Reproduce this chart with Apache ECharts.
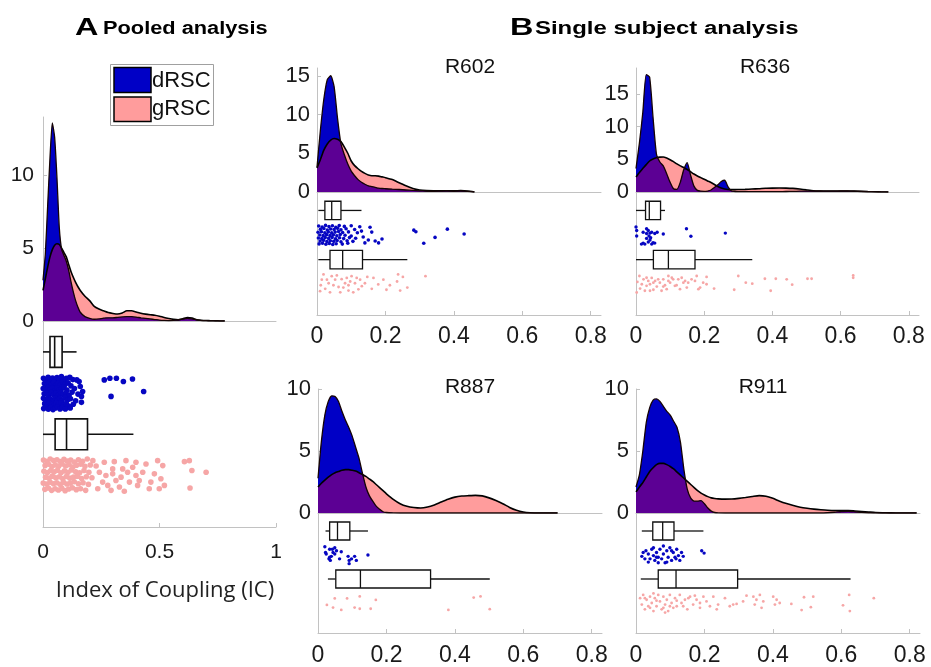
<!DOCTYPE html>
<html><head><meta charset="utf-8">
<script src="https://cdn.jsdelivr.net/npm/echarts@6/dist/echarts.min.js"></script>
<style>html,body{margin:0;padding:0;background:#fff}#c{width:931px;height:667px}</style>
</head><body><div id="c"></div>
<script>
// ---------------- DATA ----------------
// Panel A: pooled densities
const xA = [0,0.01,0.02,0.03,0.04,0.05,0.06,0.07,0.08,0.09,0.10,0.11,0.12,0.13,0.14,0.15,0.16,0.18,0.20,0.22,0.24,0.26,0.28,0.30,0.32,0.34,0.36,0.38,0.40,0.42,0.44,0.46,0.48,0.50,0.52,0.54,0.56,0.58,0.60,0.62,0.64,0.66,0.68,0.70,0.72,0.74,0.76,0.78];
const dRSC_A = [2.8,4.6,7.9,11.2,13.6,12.6,9.8,6.4,4.9,4.5,4.1,3.5,2.7,2.0,1.4,0.95,0.6,0.3,0.18,0.12,0.14,0.2,0.22,0.22,0.25,0.28,0.3,0.3,0.27,0.22,0.18,0.14,0.1,0.06,0.04,0.03,0.04,0.08,0.14,0.18,0.14,0.07,0.03,0.02,0.01,0.005,0,0];
const gRSC_A = [2.1,2.9,3.7,4.4,4.9,5.2,5.3,5.25,5.0,4.7,4.4,3.9,3.4,3.0,2.65,2.35,2.1,1.7,1.4,1.0,0.82,0.7,0.58,0.52,0.48,0.55,0.7,0.7,0.62,0.53,0.47,0.43,0.4,0.33,0.24,0.17,0.11,0.08,0.15,0.24,0.2,0.09,0.05,0.03,0.02,0.01,0.005,0];
// R602
const x602 = [0,0.01,0.02,0.03,0.04,0.05,0.06,0.07,0.08,0.09,0.10,0.11,0.12,0.13,0.14,0.15,0.16,0.17,0.18,0.19,0.20,0.22,0.24,0.26,0.28,0.30,0.32,0.34,0.36,0.38,0.40,0.42,0.44,0.46];
const dRSC_602 = [3.2,8.0,12.0,14.5,15.0,13.6,9.5,6.2,4.8,3.6,2.7,2.1,1.6,1.25,1.0,0.8,0.7,0.6,0.5,0.45,0.42,0.36,0.32,0.26,0.2,0.15,0.12,0.1,0.12,0.14,0.1,0.14,0.08,0];
const gRSC_602 = [3.1,4.2,5.4,6.2,6.7,6.9,6.8,6.5,5.8,5.0,4.0,3.4,3.0,2.65,2.4,2.2,2.1,2.1,2.05,1.95,1.85,1.6,1.2,0.8,0.45,0.25,0.18,0.17,0.17,0.17,0.16,0.18,0.12,0];
// R636
const x636 = [0,0.01,0.02,0.03,0.04,0.05,0.06,0.07,0.08,0.09,0.10,0.11,0.12,0.13,0.14,0.15,0.16,0.17,0.18,0.19,0.20,0.21,0.22,0.23,0.24,0.25,0.26,0.27,0.28,0.29,0.30,0.32,0.34,0.36,0.38,0.40,0.42,0.44,0.46,0.48,0.50,0.52,0.54,0.56,0.58,0.60,0.62,0.64,0.66,0.68,0.70,0.72,0.74];
const dRSC_636 = [3.6,7.5,12.2,18.0,17.6,11.4,5.8,4.6,4.0,2.8,1.5,0.5,0.4,1.5,3.4,4.5,2.6,0.9,0.25,0.12,0.1,0.15,0.3,0.7,1.1,1.6,1.8,0.8,0.15,0.08,0.06,0.05,0.05,0.05,0.05,0.05,0.06,0.08,0.1,0.12,0.14,0.15,0.15,0.14,0.14,0.15,0.15,0.14,0.1,0.06,0.03,0.01,0];
const gRSC_636 = [2.3,3.0,3.6,4.2,4.75,5.05,5.25,5.35,5.36,5.2,4.95,4.65,4.3,4.0,3.75,3.45,3.1,2.75,2.45,2.2,1.95,1.7,1.45,1.15,0.85,0.6,0.45,0.38,0.36,0.37,0.38,0.4,0.45,0.5,0.57,0.6,0.62,0.6,0.55,0.45,0.32,0.2,0.16,0.15,0.15,0.15,0.15,0.14,0.1,0.06,0.03,0.01,0];
// R887
const x887 = [0,0.01,0.02,0.03,0.04,0.05,0.06,0.07,0.08,0.09,0.10,0.11,0.12,0.13,0.14,0.15,0.16,0.17,0.18,0.19,0.20,0.22,0.24,0.26,0.28,0.30,0.32,0.34,0.36,0.38,0.40,0.42,0.44,0.46,0.48,0.50,0.52,0.54,0.56,0.58,0.60,0.62,0.64,0.66,0.68,0.70];
const dRSC_887 = [2.8,5.8,7.9,9.0,9.45,9.4,9.0,8.2,7.5,6.9,6.2,5.3,4.4,3.2,2.1,1.4,0.95,0.55,0.3,0.1,0.04,0.01,0,0,0,0,0,0,0,0,0,0,0,0,0,0,0,0,0,0,0,0,0,0,0,0];
const gRSC_887 = [2.1,2.4,2.65,2.9,3.1,3.25,3.35,3.45,3.5,3.5,3.45,3.38,3.25,3.1,2.95,2.75,2.55,2.3,2.05,1.8,1.55,1.1,0.75,0.54,0.44,0.4,0.48,0.65,0.88,1.1,1.28,1.37,1.4,1.42,1.38,1.22,1.0,0.75,0.45,0.22,0.08,0.02,0.005,0,0,0];
// R911
const x911 = [0,0.01,0.02,0.03,0.04,0.05,0.06,0.07,0.08,0.09,0.10,0.11,0.12,0.13,0.14,0.15,0.16,0.17,0.18,0.19,0.20,0.21,0.22,0.23,0.24,0.26,0.28,0.30,0.32,0.34,0.36,0.38,0.40,0.42,0.44,0.46,0.48,0.50,0.52,0.54,0.56,0.58,0.60,0.62,0.64,0.66,0.68,0.70,0.72,0.74,0.76,0.78,0.80,0.82];
const dRSC_911 = [2.1,3.1,5.0,7.3,8.5,9.1,9.2,9.0,8.6,8.2,7.9,7.4,6.9,5.7,3.5,1.9,1.2,0.95,0.95,1.0,0.75,0.4,0.15,0.04,0.01,0,0,0,0,0,0,0,0,0,0,0,0,0,0,0,0.02,0.06,0.12,0.14,0.1,0.05,0.02,0.01,0,0,0,0,0,0];
const gRSC_911 = [1.7,2.1,2.45,2.9,3.35,3.65,3.9,4.0,4.0,3.9,3.75,3.55,3.3,3.05,2.8,2.55,2.3,2.05,1.8,1.6,1.45,1.32,1.22,1.17,1.14,1.12,1.13,1.18,1.25,1.33,1.4,1.35,1.18,0.95,0.76,0.6,0.47,0.38,0.31,0.26,0.22,0.2,0.2,0.2,0.16,0.12,0.08,0.04,0.02,0.01,0,0,0,0];

// Box stats: [whisker low, q1, median, q3, whisker high]
const boxA_d = [0.0,0.030,0.05,0.082,0.144];
const boxA_g = [0.0,0.052,0.101,0.191,0.388];
const box602_d = [0.004,0.023,0.043,0.070,0.13];
const box602_g = [0.004,0.038,0.075,0.133,0.264];
const box636_d = [0.0,0.028,0.039,0.072,0.085];
const box636_g = [0.0,0.051,0.095,0.173,0.341];
const box887_d = [0.022,0.034,0.057,0.093,0.146];
const box887_g = [0.029,0.052,0.124,0.329,0.502];
const box911_d = [0.017,0.049,0.078,0.111,0.197];
const box911_g = [0.014,0.065,0.117,0.297,0.627];

// Raw points: [IC value, jitter (0..1 within its band)]
const dotsA_d = [[0.002,0.05],[0.012,0.12],[0.022,0.02],[0.031,0.09],[0.041,0.04],[0.05,0.11],[0.06,0.03],[0.07,0.08],[0.079,0.0],[0.09,0.1],[0.1,0.05],[0.115,0.02],[0.128,0.09],
[0.006,0.21],[0.016,0.26],[0.026,0.18],[0.036,0.24],[0.046,0.17],[0.055,0.27],[0.065,0.2],[0.075,0.25],[0.085,0.16],[0.095,0.23],[0.108,0.19],[0.12,0.28],
[0.001,0.36],[0.011,0.39],[0.021,0.33],[0.03,0.41],[0.04,0.35],[0.05,0.43],[0.06,0.34],[0.07,0.4],[0.08,0.37],[0.09,0.32],[0.103,0.41],[0.135,0.36],[0.16,0.3],
[0.005,0.52],[0.015,0.49],[0.025,0.56],[0.035,0.48],[0.045,0.55],[0.055,0.5],[0.066,0.57],[0.076,0.48],[0.086,0.54],[0.098,0.5],[0.112,0.57],[0.125,0.47],[0.15,0.53],
[0.002,0.66],[0.012,0.71],[0.022,0.64],[0.032,0.69],[0.042,0.73],[0.052,0.65],[0.062,0.7],[0.072,0.66],[0.082,0.73],[0.094,0.63],[0.106,0.7],[0.118,0.67],[0.14,0.73],
[0.007,0.82],[0.017,0.87],[0.027,0.8],[0.037,0.85],[0.047,0.89],[0.057,0.81],[0.067,0.86],[0.077,0.8],[0.088,0.87],[0.1,0.82],[0.11,0.89],[0.13,0.84],[0.165,0.78],
[0.003,0.97],[0.013,0.93],[0.023,0.99],[0.033,0.94],[0.043,1.0],[0.053,0.95],[0.063,0.92],[0.073,0.98],[0.083,0.94],[0.096,0.98],[0.117,0.95],
[0.155,0.15],[0.165,0.6],[0.17,0.45],[0.145,0.1],[0.263,0.1],[0.287,0.05],[0.315,0.05],[0.345,0.15],[0.384,0.07],[0.292,0.6],[0.432,0.45]];
const dotsA_g = [[0.002,0.03],[0.017,0.07],[0.031,0.0],[0.046,0.05],[0.06,0.02],[0.075,0.08],[0.09,0.01],[0.104,0.06],[0.119,0.03],[0.135,0.09],[0.152,0.02],[0.17,0.07],[0.19,0.0],[0.214,0.05],
[0.009,0.2],[0.024,0.16],[0.038,0.23],[0.053,0.18],[0.067,0.22],[0.082,0.15],[0.097,0.21],[0.112,0.17],[0.128,0.24],[0.144,0.19],[0.162,0.16],[0.18,0.22],[0.203,0.18],[0.228,0.21],
[0.004,0.37],[0.019,0.41],[0.033,0.35],[0.048,0.39],[0.062,0.34],[0.077,0.42],[0.092,0.36],[0.107,0.4],[0.122,0.33],[0.14,0.39],[0.157,0.42],[0.176,0.35],[0.197,0.4],
[0.011,0.55],[0.026,0.58],[0.04,0.52],[0.055,0.57],[0.07,0.54],[0.085,0.6],[0.1,0.53],[0.115,0.58],[0.131,0.55],[0.148,0.52],[0.166,0.59],[0.186,0.54],[0.21,0.57],
[0.001,0.73],[0.016,0.76],[0.03,0.7],[0.045,0.75],[0.059,0.72],[0.074,0.77],[0.088,0.71],[0.103,0.76],[0.118,0.73],[0.134,0.69],[0.152,0.75],[0.172,0.72],[0.195,0.77],
[0.008,0.92],[0.023,0.88],[0.037,0.95],[0.052,0.9],[0.066,0.94],[0.081,0.89],[0.095,0.96],[0.11,0.91],[0.126,0.87],[0.143,0.93],[0.161,0.9],[0.183,0.95],
[0.263,0.1],[0.306,0.08],[0.356,0.05],[0.399,0.1],[0.342,0.3],[0.363,0.4],[0.399,0.5],[0.313,0.65],[0.278,0.8],[0.235,0.9],[0.328,0.85],[0.371,0.7],[0.406,0.8],[0.456,0.9],[0.499,0.9],[0.463,0.7],[0.428,0.4],[0.442,0.15],[0.492,0.05],[0.514,0.2],[0.478,0.45],[0.506,0.6],[0.521,0.8],[0.607,0.08],[0.628,0.05],[0.639,0.35],[0.70,0.4],[0.631,0.88],[0.299,0.3],[0.27,0.5],[0.256,0.7],[0.385,0.25],[0.335,0.55],[0.292,0.95],[0.242,0.4],[0.349,0.98],[0.413,0.65],[0.299,0.45]];
const dots602_d = [[0.005,0.04],[0.015,0.09],[0.025,0.01],[0.035,0.07],[0.045,0.03],[0.055,0.1],[0.065,0.02],[0.08,0.06],[0.1,0.03],[0.125,0.08],
[0.01,0.21],[0.02,0.17],[0.03,0.24],[0.04,0.19],[0.05,0.22],[0.06,0.16],[0.07,0.23],[0.085,0.18],[0.11,0.22],
[0.003,0.36],[0.013,0.33],[0.023,0.38],[0.033,0.34],[0.043,0.39],[0.053,0.35],[0.063,0.32],[0.075,0.37],[0.092,0.34],[0.118,0.38],
[0.008,0.5],[0.018,0.53],[0.028,0.48],[0.038,0.52],[0.048,0.49],[0.058,0.54],[0.068,0.47],[0.082,0.51],[0.1,0.55],
[0.004,0.65],[0.014,0.68],[0.024,0.63],[0.034,0.67],[0.044,0.62],[0.054,0.69],[0.066,0.64],[0.078,0.68],[0.095,0.63],[0.113,0.66],
[0.009,0.8],[0.019,0.77],[0.029,0.83],[0.039,0.79],[0.049,0.82],[0.059,0.78],[0.07,0.84],[0.088,0.79],[0.105,0.82],
[0.006,0.95],[0.016,0.92],[0.026,0.97],[0.036,0.93],[0.046,0.98],[0.056,0.94],[0.074,0.96],[0.09,0.92],
[0.155,0.1],[0.16,0.35],[0.135,0.6],[0.15,0.75],[0.17,0.8],[0.18,0.9],[0.19,0.7],[0.13,0.3],[0.14,0.9],
[0.283,0.25],[0.289,0.33],[0.312,0.92],[0.345,0.62],[0.381,0.2],[0.43,0.45]];
const dots602_g = [[0.237,0.0],[0.251,0.13],[0.264,0.67],[0.234,0.36],[0.243,0.82],[0.203,0.78],[0.179,0.51],[0.16,0.73],[0.14,0.45],[0.126,0.27],[0.121,0.76],[0.101,0.09],[0.097,0.36],[0.092,0.82],[0.082,0.45],[0.072,0.24],[0.063,0.64],[0.053,0.27],[0.043,0.09],[0.034,0.45],[0.024,0.73],[0.014,0.27],[0.009,0.85],[0.019,0.0],[0.317,0.09],
[0.038,0.91],[0.058,0.05],[0.068,0.91],[0.087,0.18],[0.092,0.55],[0.111,0.45],[0.116,0.18],[0.131,0.6],[0.029,0.27],[0.048,0.55],[0.077,0.67],[0.011,0.55],[0.194,0.27],[0.165,0.18],[0.106,0.91],[0.147,0.13],[0.213,0.55]];
const dots636_d = [[0.0,0.09],[0.002,0.55],[0.021,0.36],[0.031,0.18],[0.031,0.42],[0.036,0.27],[0.041,0.4],[0.046,0.36],[0.055,0.42],[0.062,0.36],[0.08,0.45],[0.021,0.91],[0.026,0.96],[0.036,0.85],[0.041,0.75],[0.046,0.96],[0.05,0.89],[0.055,0.91],[0.043,0.64],[0.038,0.55],[0.002,0.27],[0.148,0.18],[0.161,0.56],[0.262,0.4],[0.016,0.96],[0.031,0.67]];
const dots636_g = [[0.300,0.08],[0.322,0.42],[0.341,0.47],[0.378,0.22],[0.410,0.22],[0.442,0.25],[0.458,0.52],[0.503,0.22],[0.515,0.22],[0.637,0.05],[0.637,0.17],[0.288,0.78],[0.395,0.83],[0.178,0.08],[0.207,0.13],[0.229,0.72],[0.197,0.42],[0.188,0.67],[0.163,0.25],[0.153,0.42],[0.139,0.42],[0.124,0.25],[0.114,0.58],[0.105,0.17],[0.095,0.33],[0.090,0.75],[0.080,0.25],[0.070,0.42],[0.061,0.62],[0.051,0.78],[0.046,0.18],[0.036,0.33],[0.031,0.58],[0.022,0.25],[0.017,0.5],[0.010,0.08],[0.004,0.38],[0.002,0.92],[0.026,0.83],[0.041,0.83],[0.065,0.25],[0.085,0.55],[0.100,0.42],[0.109,0.25],[0.119,0.55],[0.134,0.17],[0.149,0.67],[0.173,0.33],[0.183,0.75],[0.207,0.5],[0.075,0.83],[0.056,0.33],[0.012,0.72],[0.129,0.75],[0.095,0.08],[0.041,0.5],[0.080,0.62],[0.144,0.33],[0.031,0.17],[0.051,0.42]];
const dots887_d = [[0.020,0.07],[0.034,0.2],[0.049,0.12],[0.044,0.37],[0.039,0.57],[0.032,0.7],[0.036,0.78],[0.049,0.45],[0.054,0.28],[0.024,0.45],[0.063,0.7],[0.068,0.33],[0.088,0.57],[0.091,0.78],[0.098,0.7],[0.107,0.57],[0.112,0.78],[0.091,0.95],[0.146,0.5],[0.034,0.62],[0.042,0.2],[0.022,0.37]];
const dots887_g = [[0.026,0.6],[0.044,0.74],[0.049,0.26],[0.068,0.86],[0.085,0.26],[0.107,0.74],[0.122,0.16],[0.122,0.8],[0.154,0.8],[0.169,0.34],[0.381,0.86],[0.455,0.22],[0.475,0.16],[0.502,0.82]];
const dots911_d = [[0.017,0.57],[0.021,0.37],[0.029,0.28],[0.036,0.45],[0.041,0.7],[0.046,0.2],[0.051,0.53],[0.055,0.78],[0.06,0.37],[0.065,0.62],[0.07,0.2],[0.075,0.7],[0.08,0.45],[0.085,0.9],[0.09,0.28],[0.094,0.62],[0.099,0.12],[0.104,0.78],[0.109,0.37],[0.114,0.62],[0.119,0.2],[0.124,0.53],[0.128,0.78],[0.133,0.37],[0.138,0.57],[0.051,0.12],[0.065,0.9],[0.09,0.87],[0.026,0.7],[0.08,0.03],[0.104,0.28],[0.117,0.7],[0.192,0.28],[0.199,0.4],[0.036,0.87],[0.06,0.62]];
const dots911_g = [[0.012,0.25],[0.017,0.58],[0.021,0.08],[0.026,0.83],[0.031,0.33],[0.036,0.67],[0.041,0.17],[0.046,0.5],[0.051,0.92],[0.055,0.25],[0.06,0.67],[0.065,0.08],[0.07,0.42],[0.075,0.83],[0.08,0.17],[0.085,0.58],[0.09,0.33],[0.094,0.92],[0.099,0.08],[0.104,0.5],[0.109,0.75],[0.114,0.25],[0.119,0.67],[0.128,0.08],[0.133,0.5],[0.143,0.33],[0.15,0.83],[0.158,0.17],[0.167,0.58],[0.177,0.33],[0.187,0.75],[0.197,0.17],[0.206,0.42],[0.216,0.67],[0.226,0.17],[0.24,0.58],[0.26,0.25],[0.274,0.67],[0.284,0.58],[0.294,0.55],[0.313,0.42],[0.343,0.17],[0.347,0.58],[0.352,0.33],[0.362,0.08],[0.367,0.75],[0.372,0.42],[0.401,0.17],[0.406,0.58],[0.411,0.33],[0.42,0.5],[0.454,0.55],[0.484,0.87],[0.491,0.2],[0.511,0.72],[0.518,0.17],[0.605,0.62],[0.623,0.08],[0.625,0.92],[0.695,0.25],[0.026,0.25],[0.041,0.75],[0.06,0.38],[0.08,0.75],[0.099,0.67],[0.119,0.38],[0.138,0.67],[0.153,0.25],[0.172,0.12],[0.187,0.5],[0.236,0.83],[0.323,0.12],[0.051,0.0],[0.085,1.0]];

// Tick labels
const ticksA_x = [0, 0.5, 1];
const ticksB_x = [0, 0.2, 0.4, 0.6, 0.8];
const ticksA_y = [0, 5, 10];
const ticks602_y = [0, 5, 10, 15];
const ticks636_y = [0, 5, 10, 15];
const ticks887_y = [0, 5, 10];
const ticks911_y = [0, 5, 10];
const subjectNames = ['R602', 'R636', 'R887', 'R911'];
const groupNames = ['dRSC', 'gRSC'];

// ---------------- STYLE / LAYOUT ----------------
const FONT = '"Liberation Sans", Arial, sans-serif';
const AXC = '#c2c2c2';
const TXT = '#1a1a1a';
const BLUE = '#0000c6', PINK = '#ff9c9c', PURPLE = '#5c0094';
const DOT_D = '#0606c2', DOT_G = '#f6a6a6';
const BOX_D_Y = 0.15, BOX_G_Y = 0.55, BOX_HALF = 0.075;
const BAND_D = [0.27, 0.43], BAND_G = [0.67, 0.83];

const panels = [
  {xs:xA, d:dRSC_A, g:gRSC_A, bd:boxA_d, bg:boxA_g, sd:dotsA_d, sg:dotsA_g, tx:ticksA_x, ty:ticksA_y,
   left:43, width:233, top:117, zero:321, bottom:527, xmax:1, ymax:14, fx:21, fy:21, xm:15, ym:9, dsD:5.6, dsG:5.6, lw:1.6},
  {xs:x602, d:dRSC_602, g:gRSC_602, bd:box602_d, bg:box602_g, sd:dots602_d, sg:dots602_g, tx:ticksB_x, ty:ticks602_y,
   left:317, width:284, top:68, zero:192, bottom:315, xmax:0.83, ymax:16, fx:23, fy:22, xm:10, ym:7, dsD:3.6, dsG:2.8, lw:1.3},
  {xs:x636, d:dRSC_636, g:gRSC_636, bd:box636_d, bg:box636_g, sd:dots636_d, sg:dots636_g, tx:ticksB_x, ty:ticks636_y,
   left:636, width:283, top:68, zero:192, bottom:315, xmax:0.83, ymax:19, fx:23, fy:22, xm:10, ym:7, dsD:3.4, dsG:2.8, lw:1.3},
  {xs:x887, d:dRSC_887, g:gRSC_887, bd:box887_d, bg:box887_g, sd:dots887_d, sg:dots887_g, tx:ticksB_x, ty:ticks887_y,
   left:318, width:284, top:389, zero:513, bottom:636, xmax:0.83, ymax:10, fx:23, fy:22, xm:11, ym:7, dsD:3.4, dsG:2.8, lw:1.3},
  {xs:x911, d:dRSC_911, g:gRSC_911, bd:box911_d, bg:box911_g, sd:dots911_d, sg:dots911_g, tx:ticksB_x, ty:ticks911_y,
   left:636, width:284, top:389, zero:513, bottom:636, xmax:0.83, ymax:10, fx:23, fy:22, xm:11, ym:7, dsD:3.4, dsG:2.8, lw:1.3}
];

const grid = [], xAxis = [], yAxis = [], series = [];

function boxRender(lw) {
  return function (params, api) {
    const yc = api.value(0), lo = api.value(1), q1 = api.value(2), med = api.value(3), q3 = api.value(4), hi = api.value(5);
    const pLo = api.coord([lo, yc]), pQ1 = api.coord([q1, yc]), pMed = api.coord([med, yc]);
    const pQ3 = api.coord([q3, yc]), pHi = api.coord([hi, yc]);
    const a = api.coord([q1, yc - BOX_HALF])[1], b = api.coord([q1, yc + BOX_HALF])[1];
    const t = Math.min(a, b), h = Math.abs(b - a);
    const st = {stroke: '#111', lineWidth: lw, fill: null};
    return {type: 'group', children: [
      {type: 'line', shape: {x1: pLo[0], y1: pLo[1], x2: pQ1[0], y2: pQ1[1]}, style: st},
      {type: 'line', shape: {x1: pQ3[0], y1: pQ3[1], x2: pHi[0], y2: pHi[1]}, style: st},
      {type: 'rect', shape: {x: pQ1[0], y: t, width: pQ3[0] - pQ1[0], height: h}, style: {stroke: '#111', lineWidth: lw, fill: '#fff'}},
      {type: 'line', shape: {x1: pMed[0], y1: t, x2: pMed[0], y2: t + h}, style: st}
    ]};
  };
}

panels.forEach((p, i) => {
  const gt = 2 * i, gb = 2 * i + 1;
  grid.push({left: p.left, top: p.top, width: p.width, height: p.zero - p.top});
  grid.push({left: p.left, top: p.zero, width: p.width, height: p.bottom - p.zero});
  xAxis.push({gridIndex: gt, type: 'value', min: 0, max: p.xmax,
    axisLine: {show: true, onZero: false, lineStyle: {color: AXC, width: 1}},
    axisTick: {show: false}, axisLabel: {show: false}, splitLine: {show: false}});
  yAxis.push({gridIndex: gt, type: 'value', min: 0, max: p.ymax,
    axisLine: {show: true, lineStyle: {color: AXC, width: 1}},
    axisTick: {show: true, inside: true, length: 4, lineStyle: {color: AXC}, customValues: p.ty},
    axisLabel: {show: true, customValues: p.ty, fontSize: p.fy, color: TXT, fontFamily: FONT, margin: p.ym},
    splitLine: {show: false}});
  xAxis.push({gridIndex: gb, type: 'value', min: 0, max: p.xmax, position: 'bottom',
    axisLine: {show: true, onZero: false, lineStyle: {color: AXC, width: 1}},
    axisTick: {show: true, inside: true, length: 4, lineStyle: {color: AXC}, customValues: p.tx},
    axisLabel: {show: true, customValues: p.tx, fontSize: p.fx, color: TXT, fontFamily: FONT, margin: p.xm},
    splitLine: {show: false}});
  yAxis.push({gridIndex: gb, type: 'value', min: 0, max: 1, inverse: true,
    axisLine: {show: true, onZero: false, lineStyle: {color: AXC, width: 1}},
    axisTick: {show: false}, axisLabel: {show: false}, splitLine: {show: false}});

  const dPts = p.xs.map((x, k) => [x, p.d[k]]);
  const gPts = p.xs.map((x, k) => [x, p.g[k]]);
  const mPts = p.xs.map((x, k) => [x, Math.min(p.d[k], p.g[k])]);
  const base = {type: 'line', xAxisIndex: gt, yAxisIndex: gt, showSymbol: false, smooth: 0.2, silent: true, animation: false};
  series.push(Object.assign({}, base, {name: groupNames[1], data: gPts,
    areaStyle: {color: PINK, opacity: 1}, lineStyle: {color: '#000', width: 1.6}}));
  series.push(Object.assign({}, base, {name: groupNames[0], data: dPts,
    areaStyle: {color: BLUE, opacity: 1}, lineStyle: {width: 0, opacity: 0}}));
  series.push(Object.assign({}, base, {name: 'overlap', data: mPts,
    areaStyle: {color: PURPLE, opacity: 1}, lineStyle: {width: 0, opacity: 0}}));
  series.push(Object.assign({}, base, {name: groupNames[0] + ' edge', data: dPts,
    lineStyle: {color: '#160404', width: 1.3}}));

  series.push({type: 'custom', xAxisIndex: gb, yAxisIndex: gb, renderItem: boxRender(p.lw), animation: false, silent: true,
    data: [[BOX_D_Y].concat(p.bd), [BOX_G_Y].concat(p.bg)]});
  series.push({type: 'scatter', xAxisIndex: gb, yAxisIndex: gb, symbolSize: p.dsD, animation: false, silent: true,
    itemStyle: {color: DOT_D, opacity: 1}, data: p.sd.map(q => [q[0], BAND_D[0] + q[1] * (BAND_D[1] - BAND_D[0])])});
  series.push({type: 'scatter', xAxisIndex: gb, yAxisIndex: gb, symbolSize: p.dsG, animation: false, silent: true,
    itemStyle: {color: DOT_G, opacity: 1}, data: p.sg.map(q => [q[0], BAND_G[0] + q[1] * (BAND_G[1] - BAND_G[0])])});
});

const titlePos = [[470, 67], [765, 67], [470, 387], [763, 387]];
const graphic = [
  {type: 'text', x: 75, y: 28, scaleX: 1.35, style: {text: 'A', font: 'bold 24px ' + FONT, fill: '#000', align: 'left', verticalAlign: 'middle'}},
  {type: 'text', x: 103, y: 29, scaleX: 1.21, style: {text: 'Pooled analysis', font: 'bold 18px ' + FONT, fill: '#000', align: 'left', verticalAlign: 'middle'}},
  {type: 'text', x: 510, y: 28, scaleX: 1.35, style: {text: 'B', font: 'bold 24px ' + FONT, fill: '#000', align: 'left', verticalAlign: 'middle'}},
  {type: 'text', x: 535, y: 29, scaleX: 1.33, style: {text: 'Single subject analysis', font: 'bold 18px ' + FONT, fill: '#000', align: 'left', verticalAlign: 'middle'}},
  {type: 'text', x: 165, y: 591, style: {text: 'Index of Coupling (IC)', font: '22px "Open Sans", sans-serif', fill: '#222', align: 'center', verticalAlign: 'middle'}},
  {type: 'rect', shape: {x: 110.5, y: 64.5, width: 103, height: 61}, style: {fill: '#fff', stroke: '#a0a0a0', lineWidth: 1}, z: 10},
  {type: 'rect', shape: {x: 114, y: 67.5, width: 37, height: 25}, style: {fill: BLUE, stroke: '#000', lineWidth: 1.5}, z: 11},
  {type: 'rect', shape: {x: 114, y: 97, width: 37, height: 24.5}, style: {fill: PINK, stroke: '#000', lineWidth: 1.5}, z: 11},
  {type: 'text', x: 152, y: 81, z: 11, style: {text: groupNames[0], font: '22px ' + FONT, fill: '#111', align: 'left', verticalAlign: 'middle'}},
  {type: 'text', x: 152, y: 109, z: 11, style: {text: groupNames[1], font: '22px ' + FONT, fill: '#111', align: 'left', verticalAlign: 'middle'}}
];
subjectNames.forEach((n, k) => graphic.push({type: 'text', x: titlePos[k][0], y: titlePos[k][1],
  style: {text: n, font: '21px ' + FONT, fill: '#111', align: 'center', verticalAlign: 'middle'}}));

const chart = echarts.init(document.getElementById('c'), null, {renderer: 'canvas'});
chart.setOption({backgroundColor: '#fff', animation: false, grid, xAxis, yAxis, series, graphic});
</script></body></html>
